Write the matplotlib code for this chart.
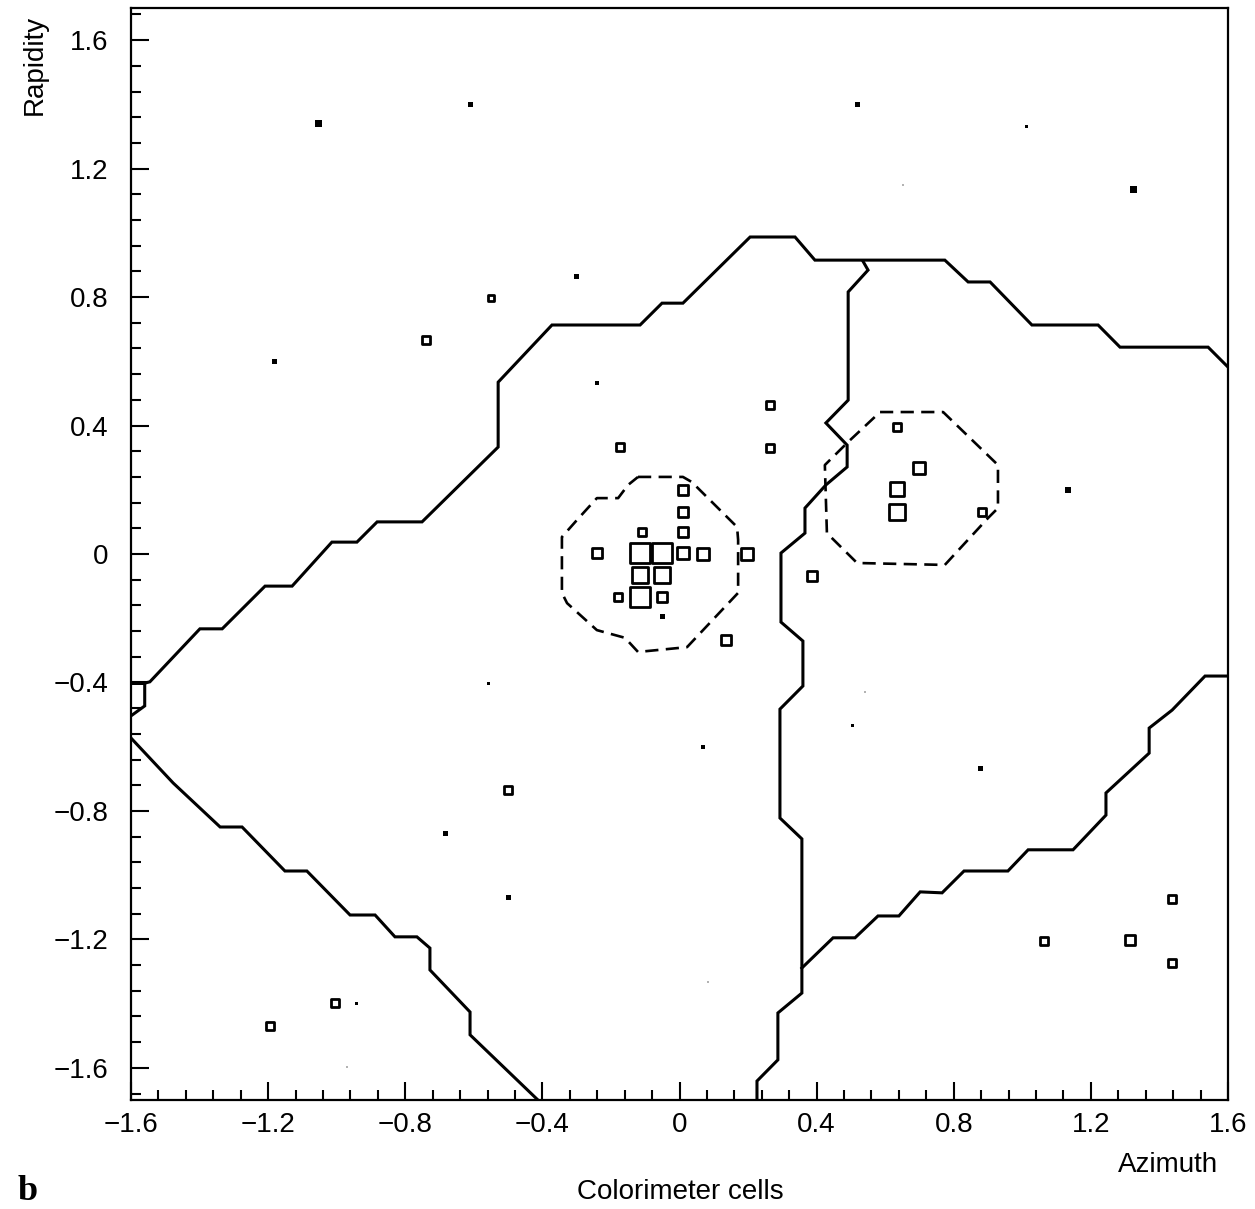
import matplotlib
matplotlib.use("Agg")
import matplotlib.pyplot as plt
from matplotlib.ticker import MultipleLocator, FuncFormatter

# calorimeter cells hit: azimuth, rapidity, box size (pixels on the plate)
cell_phi = [-1.052, -0.611, 0.518, 1.011, 1.323, -0.299, -0.550, -1.180, -0.739, -0.241,
            0.264, 0.264, -0.174, 0.634, 0.699, 0.634, 0.634, 0.882, 1.133, 0.387,
            0.010, 0.010, 0.010, 0.010, 0.069, 0.197, -0.241, -0.109, -0.115, -0.051,
            -0.115, -0.051, -0.115, -0.051, -0.179, -0.051, 0.136,
            -0.558, 0.069, 0.506, 0.877, -0.500, -0.684, -0.500, 1.437, 1.063,
            1.314, 1.437, -1.195, -1.005, -0.941]
cell_eta = [1.339, 1.401, 1.401, 1.332, 1.136, 0.865, 0.797, 0.598, 0.666, 0.532,
            0.464, 0.330, 0.333, 0.395, 0.268, 0.202, 0.131, 0.131, 0.199, -0.068,
            0.199, 0.131, 0.068, 0.003, 0.000, 0.000, 0.003, 0.068, 0.003, 0.003,
            -0.065, -0.065, -0.134, -0.134, -0.134, -0.196, -0.268,
            -0.402, -0.601, -0.535, -0.669, -0.735, -0.869, -1.071, -1.074, -1.205,
            -1.202, -1.273, -1.469, -1.398, -1.398]
cell_size = [7, 5, 5, 3, 7, 5, 8, 5, 10, 4,
             9, 10, 9, 10, 14, 16, 17, 10, 6, 12,
             12, 12, 12, 14, 14, 14, 12, 10, 21, 21,
             17, 17, 21, 12, 10, 5, 12,
             3, 4, 3, 5, 9, 5, 5, 9, 10,
             11, 9, 10, 9, 3]

# very faint specks
faint_phi = [0.652, 0.541, -0.970, 0.083]
faint_eta = [1.150, -0.430, -1.598, -1.333]

# jet boundaries (solid)
upper_phi = [-1.60, -1.56, -1.56, -1.60, -1.56, -1.545, -1.399, -1.334, -1.209, -1.130,
             -1.014, -0.941, -0.882, -0.751, -0.529, -0.529, -0.372, -0.115, -0.051,
             0.010, 0.206, 0.337, 0.395, 0.774, 0.842, 0.906, 1.028, 1.221, 1.285,
             1.542, 1.600]
upper_eta = [-0.504, -0.473, -0.402, -0.402, -0.402, -0.398, -0.233, -0.233, -0.100, -0.100,
             0.037, 0.037, 0.100, 0.100, 0.333, 0.535, 0.713, 0.713, 0.781,
             0.781, 0.987, 0.987, 0.915, 0.915, 0.847, 0.847, 0.713, 0.713, 0.644,
             0.644, 0.582]

middle_phi = [0.535, 0.550, 0.492, 0.492, 0.427, 0.489, 0.489, 0.427, 0.366, 0.366,
              0.296, 0.296, 0.360, 0.360, 0.293, 0.293, 0.357, 0.357, 0.287, 0.287,
              0.226, 0.226]
middle_eta = [0.912, 0.884, 0.816, 0.479, 0.408, 0.339, 0.271, 0.215, 0.143, 0.065,
              0.003, -0.212, -0.271, -0.411, -0.483, -0.822, -0.887, -1.367, -1.429, -1.575,
              -1.641, -1.700]

lowright_phi = [0.357, 0.448, 0.512, 0.579, 0.640, 0.702, 0.766, 0.830, 0.958, 1.017,
                1.148, 1.244, 1.244, 1.370, 1.370, 1.437, 1.533, 1.600]
lowright_eta = [-1.289, -1.195, -1.195, -1.127, -1.127, -1.052, -1.055, -0.987, -0.987, -0.921,
                -0.921, -0.813, -0.744, -0.620, -0.542, -0.486, -0.380, -0.380]

lowleft_phi = [-1.600, -1.477, -1.340, -1.276, -1.151, -1.087, -0.961, -0.888, -0.830, -0.766,
               -0.728, -0.728, -0.611, -0.611, -0.413]
lowleft_eta = [-0.573, -0.713, -0.850, -0.850, -0.987, -0.987, -1.124, -1.124, -1.192, -1.192,
               -1.227, -1.295, -1.426, -1.497, -1.700]

# jet cones (dashed)
cone1_phi = [-0.121, 0.010, 0.036, 0.168, 0.171, 0.171, 0.022, -0.121, -0.159, -0.241,
             -0.328, -0.343, -0.343, -0.299, -0.241, -0.179, -0.150, -0.121]
cone1_eta = [0.240, 0.240, 0.224, 0.084, 0.044, -0.121, -0.290, -0.305, -0.261, -0.237,
             -0.153, -0.121, 0.053, 0.106, 0.174, 0.174, 0.215, 0.240]
cone2_phi = [0.585, 0.769, 0.929, 0.929, 0.900, 0.774, 0.518, 0.430, 0.424, 0.492, 0.585]
cone2_eta = [0.442, 0.442, 0.277, 0.143, 0.112, -0.034, -0.028, 0.065, 0.277, 0.349, 0.442]

major_ticks = [-1.6, -1.2, -0.8, -0.4, 0, 0.4, 0.8, 1.2, 1.6]

plt.rcParams['font.family'] = ['Liberation Sans', 'DejaVu Sans']

fig = plt.figure(figsize=(12.55, 12.09), dpi=100)
ax = fig.add_axes([131 / 1255, 1 - 1100 / 1209, 1097 / 1255, 1092 / 1209])

for xs, ys in [(upper_phi, upper_eta), (middle_phi, middle_eta),
               (lowright_phi, lowright_eta), (lowleft_phi, lowleft_eta)]:
    ax.plot(xs, ys, color='black', lw=2.2, solid_joinstyle='miter')
for xs, ys in [(cone1_phi, cone1_eta), (cone2_phi, cone2_eta)]:
    ax.plot(xs, ys, color='black', lw=1.9, dashes=(5, 2.8))

# small cells print as solid dots, larger ones as open boxes
big = [i for i, s in enumerate(cell_size) if s >= 8]
small = [i for i, s in enumerate(cell_size) if s < 8]
ax.scatter([cell_phi[i] for i in big], [cell_eta[i] for i in big],
           s=[((cell_size[i] - 1.5) * 0.72) ** 2 for i in big], marker='s',
           facecolors='white', edgecolors='black', linewidths=2.0, zorder=3)
ax.scatter([cell_phi[i] for i in small], [cell_eta[i] for i in small],
           s=[(cell_size[i] * 0.72) ** 2 for i in small], marker='s',
           color='black', linewidths=0, zorder=3)
ax.scatter(faint_phi, faint_eta, s=2, marker='s', color='0.7', linewidths=0, zorder=3)

ax.set_xlim(-1.6, 1.6)
ax.set_ylim(-1.7, 1.7)
ax.set_xticks(major_ticks)
ax.set_yticks(major_ticks)
ax.xaxis.set_minor_locator(MultipleLocator(0.08))
ax.yaxis.set_minor_locator(MultipleLocator(0.08))
fmt = FuncFormatter(lambda v, p: "0" if abs(v) < 1e-9 else f"{v:.1f}".replace("-", "\u2212"))
ax.xaxis.set_major_formatter(fmt)
ax.yaxis.set_major_formatter(fmt)
ax.tick_params(which='both', direction='in', top=False, right=False, width=1.5, labelsize=20)
ax.tick_params(which='major', length=13)
ax.tick_params(which='minor', length=7)
ax.tick_params(axis='y', pad=16)
ax.tick_params(axis='x', pad=9)
for sp in ax.spines.values():
    sp.set_linewidth(1.6)

fig.text(35 / 1255, 1 - 65 / 1209, "Rapidity", rotation=90, ha='center', va='center', fontsize=20)
fig.text(1168 / 1255, 1 - 1165 / 1209, "Azimuth", ha='center', va='center', fontsize=20)
fig.text(680 / 1255, 1 - 1192 / 1209, "Colorimeter cells", ha='center', va='center', fontsize=20)
fig.text(28 / 1255, 1 - 1192 / 1209, "b", ha='center', va='center', fontsize=26,
         fontweight='bold', family='Liberation Serif')

fig.savefig("out.png", dpi=100)
